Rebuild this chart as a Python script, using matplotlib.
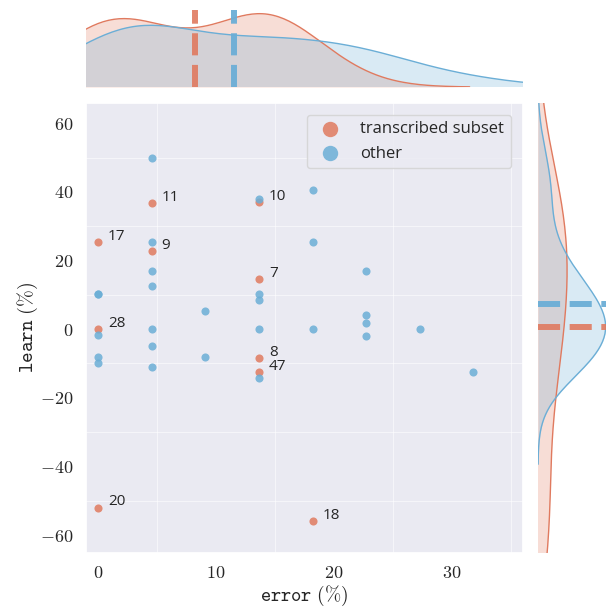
import numpy as np
import matplotlib
matplotlib.use("Agg")
import matplotlib.pyplot as plt
from matplotlib.ticker import MultipleLocator, FixedLocator
import seaborn as sns

# transcribed subset (labelled points)
err_red = [0, 4.55, 4.55, 13.64, 13.64, 0, 13.64, 13.64, 0, 18.18]
learn_red = [25.3, 36.8, 22.8, 37.0, 14.6, 0.0, -8.5, -12.5, -52.0, -56.0]
labels_red = ['17', '11', '9', '10', '7', '28', '8', '47', '20', '18']

# other
err_blue = [4.55, 13.64, 18.18, 4.55, 18.18, 4.55, 22.73, 4.55, 0, 0, 13.64, 13.64,
            9.09, 22.73, 22.73, 0, 4.55, 13.64, 18.18, 27.27, 22.73, 4.55, 0, 0,
            9.09, 4.55, 13.64, 31.82]
learn_blue = [50.0, 38.0, 40.4, 25.3, 25.3, 16.9, 16.9, 12.7, 10.3, 10.3, 10.3, 8.6,
              5.3, 4.0, 1.8, -1.6, 0.0, 0.0, 0.0, 0.0, -1.9, -4.8, -8.1, -9.9,
              -8.1, -10.9, -14.1, -12.4]

red = '#E07A5F'
blue = '#6BAED6'

sns.set_theme(style='darkgrid')
plt.rcParams['font.family'] = 'serif'
plt.rcParams['font.serif'] = ['cmr10']
plt.rcParams['mathtext.fontset'] = 'cm'
plt.rcParams['axes.formatter.use_mathtext'] = True

W, H = 606, 611
fig = plt.figure(figsize=(W / 100, H / 100), dpi=100)


def box(l, t, r, b):
    return [l / W, 1 - b / H, (r - l) / W, (b - t) / H]


ax = fig.add_axes(box(86, 103, 522.5, 552.5))
ax_top = fig.add_axes(box(86, 10, 522.5, 87))
ax_right = fig.add_axes(box(538, 103, 609, 552.5))

# main scatter
ax.scatter(err_red, learn_red, s=34, color=red, alpha=0.85, linewidth=0,
           label='transcribed subset', zorder=3)
ax.scatter(err_blue, learn_blue, s=34, color=blue, alpha=0.85, linewidth=0,
           label='other', zorder=3)
for x, y, t in zip(err_red, learn_red, labels_red):
    ax.annotate(t, (x, y), xytext=(7, 4), textcoords='offset points',
                ha='left', va='center', fontsize=11, family='Open Sans',
                color='#262626', zorder=4)

ax.set_xlim(-1.05, 36.0)
ax.set_ylim(-65.1, 65.9)
ax.xaxis.set_major_locator(MultipleLocator(10))
ax.yaxis.set_major_locator(MultipleLocator(20))
ax.xaxis.set_minor_locator(FixedLocator([5, 15, 25, 35]))
ax.yaxis.set_minor_locator(FixedLocator([-50, -30, -10, 10, 30, 50]))
ax.grid(False, which='major')
ax.grid(True, which='minor', color='white', linewidth=0.8, alpha=0.55)
ax.tick_params(which='both', length=0, labelsize=13, pad=9)
ax.set_xlabel(r'$\mathtt{error}\ (\%)$', fontsize=14, labelpad=2)
ax.set_ylabel(r'$\mathtt{learn}\ (\%)$', fontsize=14.5, labelpad=0)

leg = ax.legend(loc='upper right', markerscale=1.9, prop={'family': 'Open Sans', 'size': 12},
                frameon=True, borderaxespad=0.7)
leg.get_frame().set_edgecolor('0.82')
leg.get_frame().set_facecolor('#EAEAF2')

# top marginal: KDE of error
for vals, c in ((err_red, red), (err_blue, blue)):
    sns.kdeplot(x=vals, ax=ax_top, fill=True, color=c, linewidth=0)
    sns.kdeplot(x=vals, ax=ax_top, fill=False, color=c, linewidth=1)
ax_top.set_xlim(ax.get_xlim())
ax_top.set_ylim(0, ax_top.get_ylim()[1])
ax_top.axvline(np.mean(err_red), color=red, lw=4.3, ls='--', alpha=0.9)
ax_top.axvline(np.mean(err_blue), color=blue, lw=4.3, ls='--', alpha=0.95)

# right marginal: KDE of learn
for vals, c in ((learn_red, red), (learn_blue, blue)):
    sns.kdeplot(y=vals, ax=ax_right, fill=True, color=c, linewidth=0)
    sns.kdeplot(y=vals, ax=ax_right, fill=False, color=c, linewidth=1)
ax_right.set_ylim(ax.get_ylim())
ax_right.set_xlim(0, ax_right.get_xlim()[1])
ax_right.axhline(np.mean(learn_red), color=red, lw=4.3, ls='--', alpha=0.9)
ax_right.axhline(np.mean(learn_blue), color=blue, lw=4.3, ls='--', alpha=0.95)

for a in (ax_top, ax_right):
    a.set_facecolor('white')
    a.grid(False)
    a.set_xticks([])
    a.set_yticks([])
    a.set_xlabel('')
    a.set_ylabel('')
    for s in a.spines.values():
        s.set_visible(False)

fig.savefig('out.png', dpi=100)
